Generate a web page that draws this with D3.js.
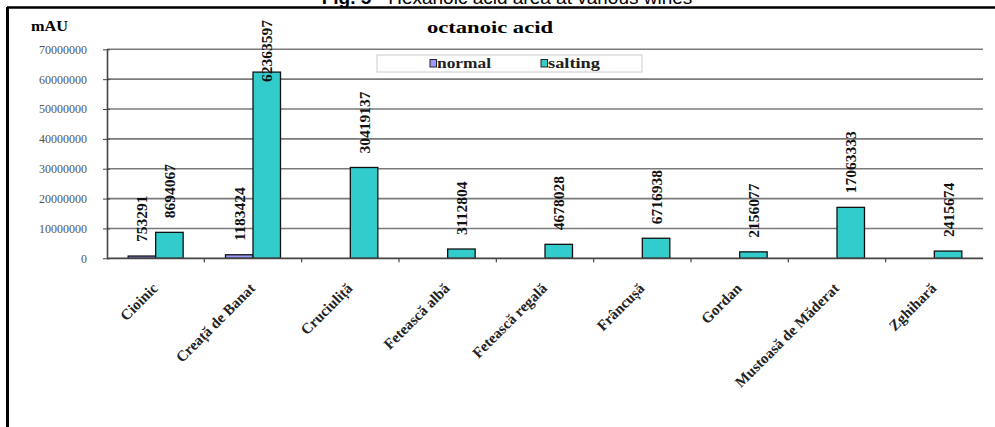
<!DOCTYPE html>
<html>
<head>
<meta charset="utf-8">
<script src="https://cdn.jsdelivr.net/npm/d3@7/dist/d3.min.js"></script>
<style>
  html, body { margin: 0; padding: 0; background: #fff; }
  svg { display: block; }
  .serif { font-family: "Liberation Serif", "Times New Roman", serif; }
</style>
</head>
<body>
<svg id="chart" width="995" height="427"></svg>
<script>
// Octanoic acid peak area (mAU) per wine variety, normal vs. salting
const categories = ["Cioinic", "Creață de Banat", "Cruciuliță", "Fetească albă", "Fetească regală",
                    "Frâncușă", "Gordan", "Mustoasă de Măderat", "Zghihară"];
const seriesNames = ["normal", "salting"];
const normalValues  = [753291, 1183424, null, null, null, null, null, null, null];
const saltingValues = [8694067, 62363597, 30419137, 3112804, 4678028, 6716938, 2156077, 17063333, 2415674];
const yTicks = [0, 10000000, 20000000, 30000000, 40000000, 50000000, 60000000, 70000000];
const seriesColors = ["#9999FF", "#33CCCC"];

const svg = d3.select("#chart");
const plot = { left: 107, right: 983, top: 49.3, bottom: 258.3 };

// Figure caption (runs off the page top)
const cap = svg.append("text")
  .attr("x", 507).attr("y", 4)
  .attr("text-anchor", "middle")
  .attr("font-family", "'Liberation Sans', Arial, sans-serif")
  .attr("font-size", 19);
cap.append("tspan").attr("font-weight", "bold").text("Fig. 5");
cap.append("tspan").text(" - Hexanoic acid area at various wines");

// Frame
svg.append("line").attr("x1", 7).attr("x2", 995).attr("y1", 7.5).attr("y2", 7.5)
  .attr("stroke", "#000").attr("stroke-width", 2.5);
svg.append("line").attr("x1", 7.5).attr("x2", 7.5).attr("y1", 7).attr("y2", 427)
  .attr("stroke", "#000").attr("stroke-width", 3);

// Scales
const y = d3.scaleLinear().domain([0, 70000000]).range([plot.bottom, plot.top]);
const x0 = d3.scaleBand().domain(categories).range([plot.left, plot.right]).padding(0);
const x1 = d3.scaleBand().domain(seriesNames).range([0, x0.bandwidth()])
  .paddingInner(0).paddingOuter(0.77);

// Gridlines
svg.append("g").selectAll("line").data(yTicks.filter(d => d > 0)).join("line")
  .attr("x1", plot.left).attr("x2", plot.right)
  .attr("y1", d => y(d)).attr("y2", d => y(d))
  .attr("stroke", "#7a7a7a").attr("stroke-width", 1.6);

// Y axis
const yAxis = svg.append("g").attr("transform", `translate(${plot.left},0)`)
  .call(d3.axisLeft(y).tickValues(yTicks).tickFormat(d3.format("d")).tickSizeInner(4).tickSizeOuter(0).tickPadding(16));
yAxis.select(".domain").attr("stroke", "#444").attr("stroke-width", 1.6);
yAxis.selectAll(".tick line").attr("stroke", "#444").attr("x2", 3).attr("x1", -4);
yAxis.selectAll(".tick text")
  .attr("class", "serif").attr("font-size", 12).attr("fill", "#555");

// Bars
const rows = categories.map((c, i) => ({
  cat: c,
  vals: [{ s: "normal", v: normalValues[i] }, { s: "salting", v: saltingValues[i] }]
}));
const groups = svg.append("g").selectAll("g").data(rows).join("g")
  .attr("transform", d => `translate(${x0(d.cat)},0)`);
groups.selectAll("rect").data(d => d.vals.filter(e => e.v != null)).join("rect")
  .attr("x", d => x1(d.s)).attr("width", x1.bandwidth())
  .attr("y", d => y(d.v)).attr("height", d => y(0) - y(d.v))
  .attr("fill", (d) => seriesColors[seriesNames.indexOf(d.s)])
  .attr("stroke", "#111").attr("stroke-width", 1.3);

// X axis
const xAxis = svg.append("g").attr("transform", `translate(0,${plot.bottom})`);
xAxis.append("line").attr("x1", plot.left).attr("x2", plot.right).attr("y1", 0).attr("y2", 0)
  .attr("stroke", "#444").attr("stroke-width", 1.8);
xAxis.selectAll("line.tk").data(categories.slice(1)).join("line").attr("class", "tk")
  .attr("x1", d => x0(d)).attr("x2", d => x0(d)).attr("y1", 0).attr("y2", 4)
  .attr("stroke", "#444").attr("stroke-width", 1.2);
xAxis.selectAll("text").data(categories).join("text")
  .attr("class", "serif")
  .attr("font-size", 15).attr("font-weight", "bold").attr("fill", "#222")
  .attr("text-anchor", "end")
  .attr("transform", d => `translate(${x0(d) + x0.bandwidth() / 2 + 3},${31}) rotate(-45)`)
  .text(d => d);

// Value labels, rotated, above each bar
groups.selectAll("text").data(d => d.vals.filter(e => e.v != null)).join("text")
  .attr("class", "serif")
  .attr("font-size", 15.5).attr("font-weight", "bold").attr("fill", "#111")
  .attr("text-anchor", "start").attr("dy", "0.35em")
  .text(d => d.v)
  .each(function (d) {
    const len = this.getComputedTextLength();
    let base = y(d.v) - 14;
    if (base - len < 20) base = 20 + len;
    d3.select(this).attr("transform", `translate(${x1(d.s) + x1.bandwidth() / 2},${base}) rotate(-90)`);
  });

// Chart title and unit
svg.append("text").attr("class", "serif")
  .attr("x", 427).attr("y", 33)
  .attr("font-size", 16).attr("font-weight", "bold")
  .attr("textLength", 126).attr("lengthAdjust", "spacingAndGlyphs")
  .text("octanoic acid");
svg.append("text").attr("class", "serif")
  .attr("x", 31).attr("y", 31)
  .attr("font-size", 14).attr("font-weight", "bold")
  .attr("textLength", 37).attr("lengthAdjust", "spacingAndGlyphs")
  .text("mAU");

// Legend
const lg = svg.append("g");
lg.append("rect").attr("x", 377).attr("y", 55).attr("width", 265).attr("height", 17)
  .attr("fill", "#fff").attr("stroke", "#ccc").attr("stroke-width", 1);
const items = [{ name: seriesNames[0], x: 430, tw: 54 }, { name: seriesNames[1], x: 541, tw: 52 }];
items.forEach((it, i) => {
  lg.append("rect").attr("x", it.x).attr("y", 59.5).attr("width", 6.5).attr("height", 7.5)
    .attr("fill", seriesColors[i]).attr("stroke", "#222").attr("stroke-width", 1);
  lg.append("text").attr("class", "serif")
    .attr("x", it.x + 7).attr("y", 67.5)
    .attr("font-size", 14).attr("font-weight", "bold").attr("fill", "#222")
    .attr("textLength", it.tw).attr("lengthAdjust", "spacingAndGlyphs")
    .text(it.name);
});
</script>
</body>
</html>
